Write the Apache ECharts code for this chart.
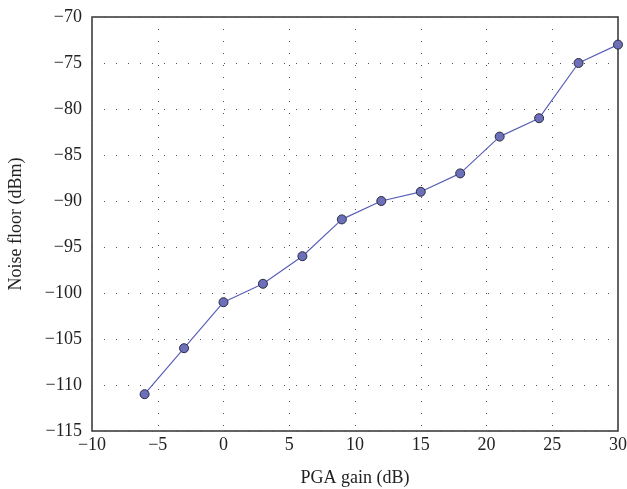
<!DOCTYPE html>
<html><head><meta charset="utf-8">
<script src="https://cdn.jsdelivr.net/npm/echarts@6/dist/echarts.min.js"></script>
<style>html,body{margin:0;padding:0;background:#fff}#c{width:627px;height:489px}</style>
</head><body><div id="c"></div>
<script>
var gainDb = [-6, -3, 0, 3, 6, 9, 12, 15, 18, 21, 24, 27, 30];
var noiseFloor = [-111, -106, -101, -99, -96, -92, -90, -89, -87, -83, -81, -75, -73];
var xLabel = 'PGA gain (dB)';
var yLabel = 'Noise floor (dBm)';
var font = '"Liberation Serif", "DejaVu Serif", serif';
var chart = echarts.init(document.getElementById('c'), null, {renderer: 'canvas'});
chart.setOption({
  animation: false,
  grid: {left: 92, right: 9, top: 17, bottom: 58, outerBoundsMode: 'none', containLabel: false, show: true, borderColor: '#333', borderWidth: 1.5, backgroundColor: 'transparent'},
  xAxis: {
    type: 'value', min: -10, max: 30, interval: 5,
    name: xLabel, nameLocation: 'middle', nameGap: 38,
    nameTextStyle: {fontFamily: font, fontSize: 18, color: '#222'},
    axisLine: {show: false}, axisTick: {show: false},
    axisLabel: {fontFamily: font, fontSize: 18, color: '#222', margin: 5, formatter: function(v){return String(v).replace('-', '\u2212');}},
    splitLine: {show: true, lineStyle: {color: '#555', width: 1, type: [1, 11]}}
  },
  yAxis: {
    type: 'value', min: -115, max: -70, interval: 5,
    name: yLabel, nameLocation: 'middle', nameGap: 67,
    nameTextStyle: {fontFamily: font, fontSize: 18, color: '#222'},
    axisLine: {show: false}, axisTick: {show: false},
    axisLabel: {fontFamily: font, fontSize: 18, color: '#222', margin: 10, formatter: function(v){return String(v).replace('-', '\u2212');}},
    splitLine: {show: true, lineStyle: {color: '#555', width: 1, type: [1, 11]}}
  },
  series: [{
    type: 'line',
    data: gainDb.map(function(g, i){return [g, noiseFloor[i]];}),
    symbol: 'circle', symbolSize: 9,
    lineStyle: {color: '#5a60b8', width: 1.2},
    itemStyle: {color: '#6b70b8', borderColor: '#2a2a44', borderWidth: 1}
  }]
});
</script></body></html>
